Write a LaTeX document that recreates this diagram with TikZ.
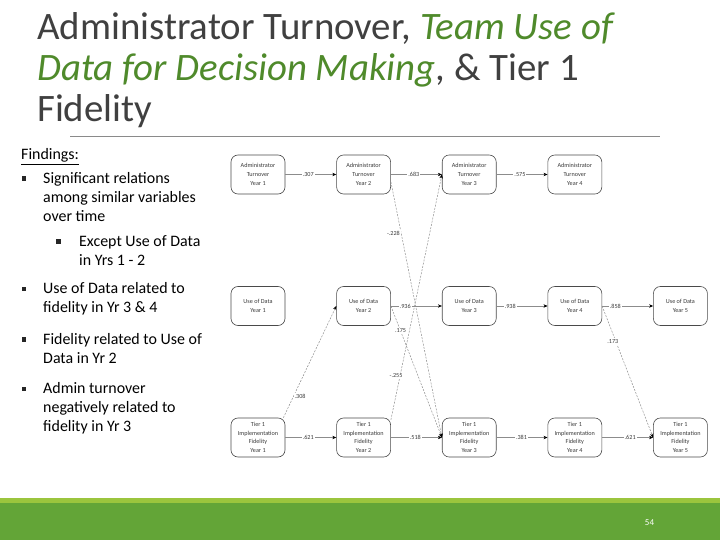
\documentclass[tikz,border=0pt]{standalone}
\usepackage{fontspec}
\setmainfont{Carlito}
\usepackage{xcolor}
\usetikzlibrary{arrows.meta, positioning}
\definecolor{ttlgray}{HTML}{404040}
\definecolor{ttlgreen}{HTML}{4F8A2B}
\definecolor{boxline}{HTML}{4A4A4A}
\definecolor{boxtext}{HTML}{3A3A3A}
\definecolor{pathgray}{HTML}{8C8C8C}
\definecolor{crossgray}{HTML}{8F8F8F}
\definecolor{rulegray}{HTML}{8A8A8A}
\definecolor{barlight}{HTML}{9BC53D}
\definecolor{bardark}{HTML}{63A537}
\tikzset{
  vbox/.style={draw=boxline, fill=white, rounded corners=7bp, line width=0.6bp,
               minimum width=54bp, minimum height=39bp, inner sep=1bp, align=center,
               text=boxtext, font=\fontsize{6.2}{8.7}\selectfont},
  harr/.style={-{Stealth[length=4bp, width=3.4bp, color=black]}, line width=0.5bp, pathgray},
  xarr/.style={-{Stealth[length=4bp, width=3.4bp, color=black]}, line width=0.5bp, crossgray,
               dash pattern=on 2bp off 1.3bp},
  wlab/.style={fill=white, inner sep=1bp, text=boxtext, font=\fontsize{6.2}{7}\selectfont},
  findtxt/.style={anchor=base west, align=left, inner sep=0pt, text=black,
                  font=\fontsize{16}{19.3}\selectfont},
  sqbul/.style={fill=black!85, inner sep=0pt, minimum size=4.3bp},
}
\begin{document}
\begin{tikzpicture}[x=1bp, y=-1bp]
  \useasboundingbox (0,0) rectangle (720,540);

  %% Title (anchored at the baseline of its last line)
  \node[anchor=base west, inner sep=0pt, align=left, text=ttlgray,
        font=\fontsize{39}{41.2}\selectfont] (title) at (37,121.7)
    {Administrator Turnover, \textit{\textcolor{ttlgreen}{Team Use of}}\\
     \textit{\textcolor{ttlgreen}{Data for Decision Making}}, \& Tier 1\\
     Fidelity};
  \draw[rulegray, line width=0.8bp] (70,136) -- (660,136);

  %% Findings
  \node[findtxt] (fhead) at (21,160) {\underline{Findings:}};
  \node[sqbul] (b1) at (24,178.5) {};
  \node[findtxt] (find1) at (43,221.6) {Significant relations\\among similar variables\\over time};
  \node[sqbul] (b2) at (58.5,241.5) {};
  \node[findtxt] (find2) at (79,265.3) {Except Use of Data\\in Yrs 1 - 2};
  \node[sqbul] (b3) at (24,289) {};
  \node[findtxt] (find3) at (43,312.6) {Use of Data related to\\fidelity in Yr 3 \& 4};
  \node[sqbul] (b4) at (24,339.5) {};
  \node[findtxt] (find4) at (43,363.3) {Fidelity related to Use of\\Data in Yr 2};
  \node[sqbul] (b5) at (24,389) {};
  \node[findtxt] (find5) at (43,431.9) {Admin turnover\\negatively related to\\fidelity in Yr 3};

  %% Administrator Turnover row
  \node[vbox] (adm1) at (258,174.5) {Administrator\\Turnover\\Year 1};
  \node[vbox] (adm2) at (363.6,174.5) {Administrator\\Turnover\\Year 2};
  \node[vbox] (adm3) at (469.2,174.5) {Administrator\\Turnover\\Year 3};
  \node[vbox] (adm4) at (574.8,174.5) {Administrator\\Turnover\\Year 4};

  %% Use of Data row
  \node[vbox] (use1) at (258,306) {Use of Data\\Year 1};
  \node[vbox] (use2) at (363.6,306) {Use of Data\\Year 2};
  \node[vbox] (use3) at (469.2,306) {Use of Data\\Year 3};
  \node[vbox] (use4) at (574.8,306) {Use of Data\\Year 4};
  \node[vbox] (use5) at (680.4,306) {Use of Data\\Year 5};

  %% Fidelity row
  \node[vbox] (fid1) at (258,437.5) {Tier 1\\Implementation\\Fidelity\\Year 1};
  \node[vbox] (fid2) at (363.6,437.5) {Tier 1\\Implementation\\Fidelity\\Year 2};
  \node[vbox] (fid3) at (469.2,437.5) {Tier 1\\Implementation\\Fidelity\\Year 3};
  \node[vbox] (fid4) at (574.8,437.5) {Tier 1\\Implementation\\Fidelity\\Year 4};
  \node[vbox] (fid5) at (680.4,437.5) {Tier 1\\Implementation\\Fidelity\\Year 5};

  %% Cross-lagged paths
  \draw[xarr] (adm2.-15) -- node[wlab, pos=0.2, anchor=east] {-.228} (fid3.west);
  \draw[xarr] (fid2.33) -- node[wlab, pos=0.18, xshift=-4bp] {-.255} (adm3.west);
  \draw[xarr] (use2.east) -- node[wlab, pos=0.19] {.175} (fid3.west);
  \draw[xarr] (fid1.38) -- node[wlab, pos=0.19, anchor=west] {.308} (use2.west);
  \draw[xarr] (use4.east) -- node[wlab, pos=0.27, xshift=-3bp] {.173} (fid5.west);

  %% Stability paths
  \draw[harr] (adm1) -- node[wlab, pos=0.45] {.307} (adm2);
  \draw[harr] (adm2) -- node[wlab, pos=0.45] {.683} (adm3);
  \draw[harr] (adm3) -- node[wlab, pos=0.46] {.575} (adm4);
  \draw[harr] (use2) -- node[wlab, pos=0.28] {.936} (use3);
  \draw[harr] (use3) -- node[wlab, pos=0.27] {.938} (use4);
  \draw[harr] (use4) -- node[wlab, pos=0.26] {.858} (use5);
  \draw[harr] (fid1) -- node[wlab, pos=0.45] {.621} (fid2);
  \draw[harr] (fid2) -- node[wlab, pos=0.48] {.518} (fid3);
  \draw[harr] (fid3) -- node[wlab, pos=0.49] {.381} (fid4);
  \draw[harr] (fid4) -- node[wlab, pos=0.55] {.621} (fid5);

  %% Footer
  \fill[barlight] (0,497.5) rectangle (720,503.3);
  \fill[bardark] (0,503.3) rectangle (720,540);
  \node[text=white, font=\fontsize{9}{10}\selectfont] (pnum) at (649.5,523) {54};
\end{tikzpicture}
\end{document}
